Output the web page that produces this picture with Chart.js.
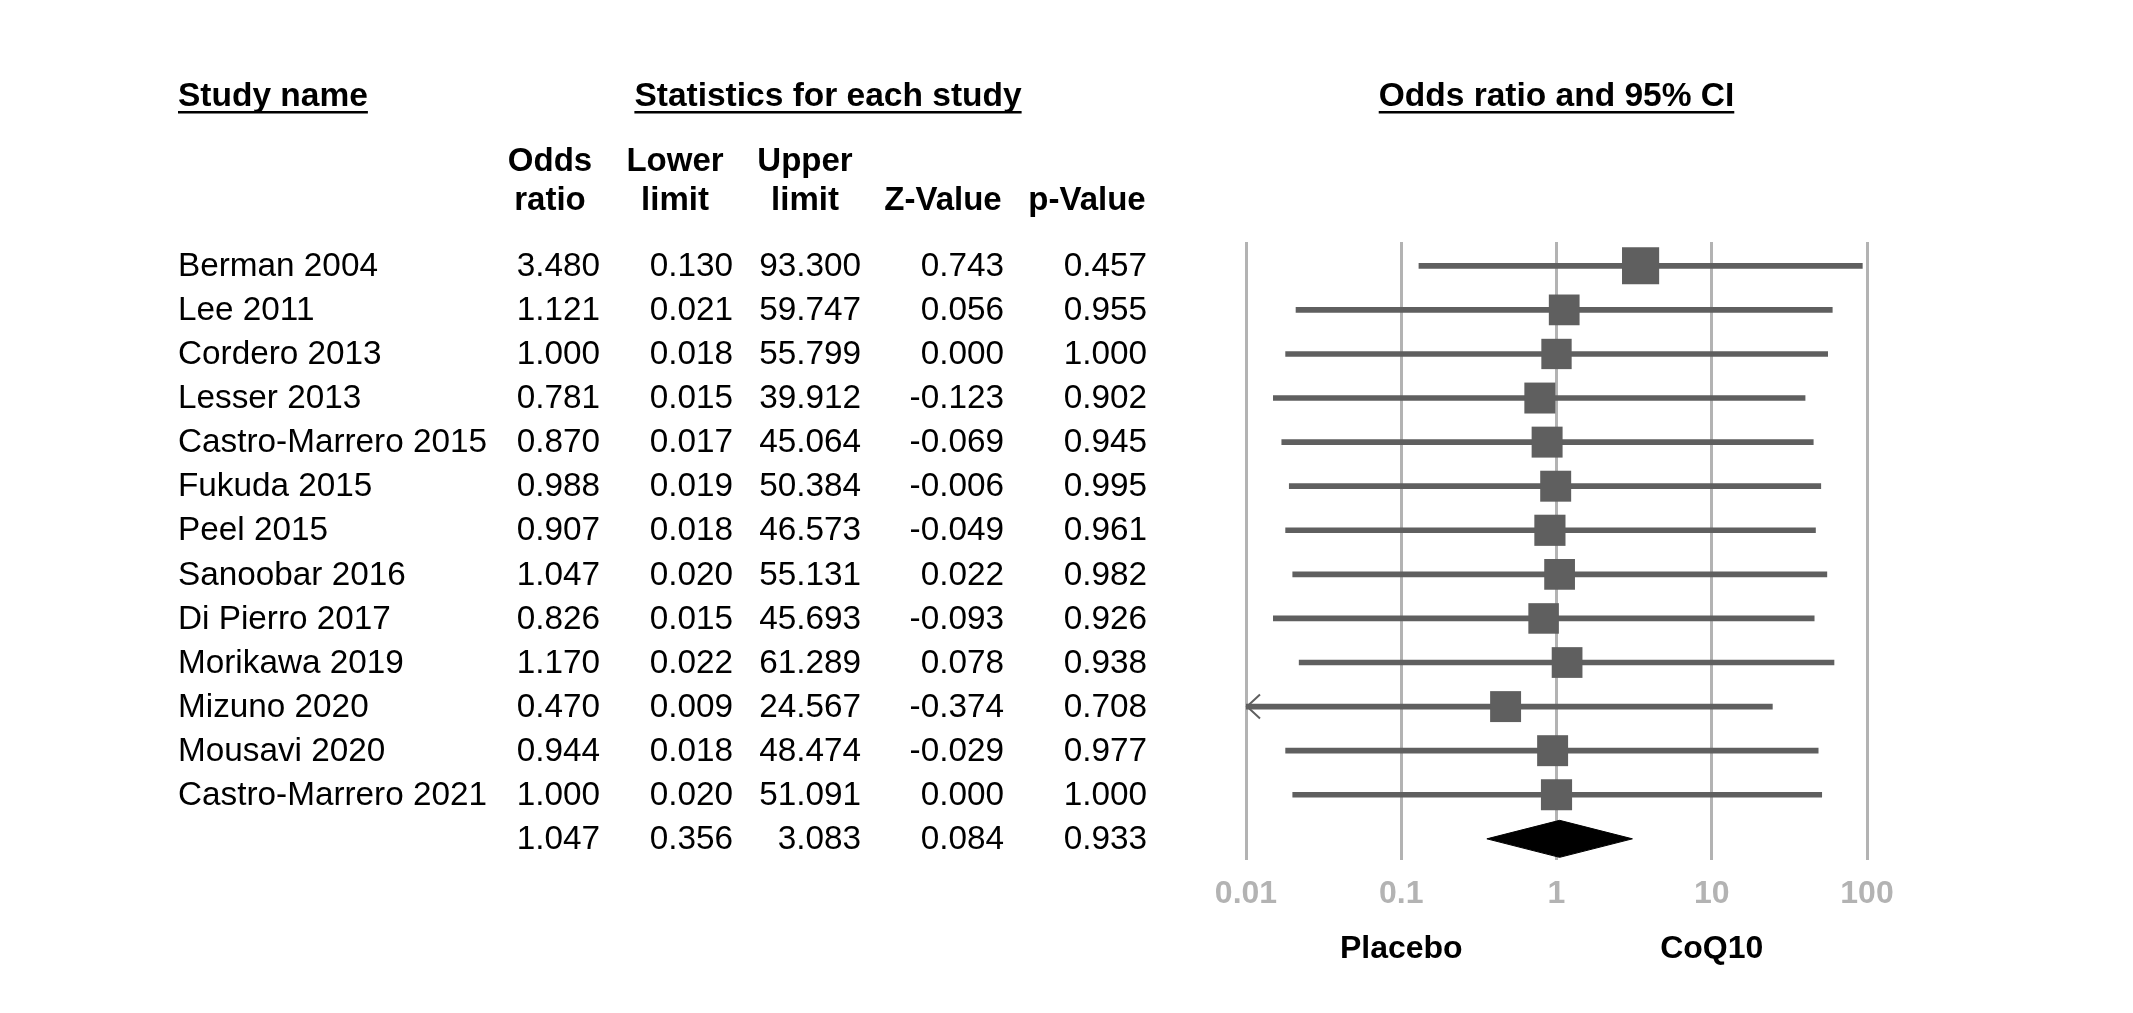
<!DOCTYPE html>
<html>
<head>
<meta charset="utf-8">
<script src="https://cdn.jsdelivr.net/npm/chart.js@4.4.1/dist/chart.umd.min.js"></script>
<style>
    html, body { margin: 0; background: #fff; }
    #wrap { width: 2133px; height: 1013px; }
</style>
</head>
<body>
<div id="wrap"><canvas id="chart_forest"></canvas></div>
<script>
'use strict';

// study rows, as printed in the table
const studies = ['Berman 2004', 'Lee 2011', 'Cordero 2013', 'Lesser 2013', 'Castro-Marrero 2015',
    'Fukuda 2015', 'Peel 2015', 'Sanoobar 2016', 'Di Pierro 2017', 'Morikawa 2019',
    'Mizuno 2020', 'Mousavi 2020', 'Castro-Marrero 2021'];
const oddsRatio = [3.480, 1.121, 1.000, 0.781, 0.870, 0.988, 0.907, 1.047, 0.826, 1.170, 0.470, 0.944, 1.000];
const lowerLimit = [0.130, 0.021, 0.018, 0.015, 0.017, 0.019, 0.018, 0.020, 0.015, 0.022, 0.009, 0.018, 0.020];
const upperLimit = [93.300, 59.747, 55.799, 39.912, 45.064, 50.384, 46.573, 55.131, 45.693, 61.289, 24.567, 48.474, 51.091];
const zValue = [0.743, 0.056, 0.000, -0.123, -0.069, -0.006, -0.049, 0.022, -0.093, 0.078, -0.374, -0.029, 0.000];
const pValue = [0.457, 0.955, 1.000, 0.902, 0.945, 0.995, 0.961, 0.982, 0.926, 0.938, 0.708, 0.977, 1.000];
// relative weight (%)
const studyWeight = [10.8, 7.4, 7.2, 7.5, 7.5, 7.5, 7.6, 7.4, 7.3, 7.4, 7.5, 7.5, 7.6];

// pooled result (last row): odds ratio, lower, upper, Z, p
const summaryStats = [1.047, 0.356, 3.083, 0.084, 0.933];

const axisTicks = [0.01, 0.1, 1, 10, 100];
const axisLabels = ['0.01', '0.1', '1', '10', '100'];
const favourLabels = ['Placebo', 'CoQ10'];

const FONT = 'Arial, "Liberation Sans", sans-serif';
const DARK = '#5f5f5f';
const GRID = '#b3b3b3';
const summaryRow = studies.length;

function underlined(ctx, text, x, y, align) {
    ctx.textAlign = align;
    ctx.fillText(text, x, y);
    let w = ctx.measureText(text).width,
        x0 = align === 'center' ? x - w / 2 : x;
    ctx.fillRect(x0, y + 14, w, 2.5);
}

const tablePlugin = {
    id: 'forestTable',
    afterDraw(chart) {
        let {ctx, scales: {x, y}} = chart,
            valueRight = [600, 733, 861, 1004, 1147],
            headCenter = [550, 675, 805, 943, 1087];
        ctx.save();
        ctx.fillStyle = '#000';
        ctx.textBaseline = 'middle';

        ctx.font = 'bold 33.5px ' + FONT;
        underlined(ctx, 'Study name', 178, 97, 'left');
        underlined(ctx, 'Statistics for each study', 828, 97, 'center');
        underlined(ctx, 'Odds ratio and 95% CI', (chart.chartArea.left + chart.chartArea.right) / 2, 97, 'center');

        ctx.font = 'bold 33px ' + FONT;
        ctx.textAlign = 'center';
        [['Odds', 'ratio'], ['Lower', 'limit'], ['Upper', 'limit'], ['', 'Z-Value'], ['', 'p-Value']].forEach((h, i) => {
            ctx.fillText(h[0], headCenter[i], 161.5);
            ctx.fillText(h[1], headCenter[i], 201);
        });

        ctx.font = '33.3px ' + FONT;
        studies.forEach((name, i) => {
            let py = y.getPixelForValue(i) + 1,
                vals = [oddsRatio[i], lowerLimit[i], upperLimit[i], zValue[i], pValue[i]];
            ctx.textAlign = 'left';
            ctx.fillText(name, 178, py);
            ctx.textAlign = 'right';
            vals.forEach((v, j) => ctx.fillText(v.toFixed(3), valueRight[j], py));
        });
        let sy = y.getPixelForValue(summaryRow) + 1;
        ctx.textAlign = 'right';
        summaryStats.forEach((v, j) => ctx.fillText(v.toFixed(3), valueRight[j], sy));

        // arrows where the interval runs off the axis
        ctx.strokeStyle = DARK;
        ctx.lineWidth = 2;
        studies.forEach((name, i) => {
            if (lowerLimit[i] < x.min) {
                let lx = x.getPixelForValue(x.min), py = y.getPixelForValue(i);
                ctx.beginPath();
                ctx.moveTo(lx + 14, py - 12);
                ctx.lineTo(lx + 1, py);
                ctx.lineTo(lx + 14, py + 12);
                ctx.stroke();
            }
        });

        ctx.font = 'bold 32px ' + FONT;
        ctx.textAlign = 'center';
        ctx.fillText(favourLabels[0], x.getPixelForValue(0.1), 949);
        ctx.fillText(favourLabels[1], x.getPixelForValue(10), 949);
        ctx.restore();
    }
};

let ciData = studies.map((s, i) => ({y: i, x: [lowerLimit[i], upperLimit[i]]})),
    pointData = studies.map((s, i) => ({x: oddsRatio[i], y: i})),
    diamondData = [
        {x: summaryStats[1], y: summaryRow},
        {x: summaryStats[0], y: summaryRow - 0.42},
        {x: summaryStats[2], y: summaryRow},
        {x: summaryStats[0], y: summaryRow + 0.42},
        {x: summaryStats[1], y: summaryRow}
    ];

let config = {
    type: 'scatter',
    data: {
        datasets: [{
            type: 'bar',
            label: '95% CI',
            indexAxis: 'y',
            data: ciData,
            backgroundColor: DARK,
            barThickness: 5,
            order: 3
        }, {
            type: 'scatter',
            label: 'Odds ratio',
            data: pointData,
            pointStyle: 'rect',
            pointRadius: studyWeight.map(w => Math.sqrt(w) * 11.3 / 1.414),
            pointHoverRadius: studyWeight.map(w => Math.sqrt(w) * 11.3 / 1.414),
            backgroundColor: DARK,
            borderWidth: 0,
            order: 2
        }, {
            type: 'scatter',
            label: 'Summary',
            data: diamondData,
            showLine: true,
            fill: 'shape',
            tension: 0,
            pointRadius: 0,
            borderColor: '#000',
            borderWidth: 1,
            backgroundColor: '#000',
            order: 1
        }]
    },
    options: {
        responsive: true,
        maintainAspectRatio: false,
        devicePixelRatio: 1,
        animation: false,
        layout: {padding: {left: 1246, right: 266, top: 242, bottom: 93}},
        plugins: {legend: {display: false}, tooltip: {enabled: false}},
        scales: {
            x: {
                type: 'logarithmic',
                min: 0.01,
                max: 100,
                afterBuildTicks: scale => {
                    scale.ticks = axisTicks.map(v => ({value: v}));
                },
                afterFit: scale => {
                    scale.height = 60;
                },
                grid: {color: GRID, lineWidth: 3, drawTicks: false},
                border: {display: false},
                ticks: {
                    color: GRID,
                    padding: 15,
                    maxRotation: 0,
                    font: {family: FONT, size: 32, weight: 'bold'},
                    callback: (v) => axisLabels[axisTicks.indexOf(v)]
                }
            },
            y: {
                type: 'linear',
                reverse: true,
                min: -0.54,
                max: summaryRow + 0.48,
                offset: false,
                display: false
            }
        }
    },
    plugins: [tablePlugin]
};

window.ChartForest = new Chart(document.getElementById('chart_forest').getContext('2d'), config);
</script>
</body>
</html>
